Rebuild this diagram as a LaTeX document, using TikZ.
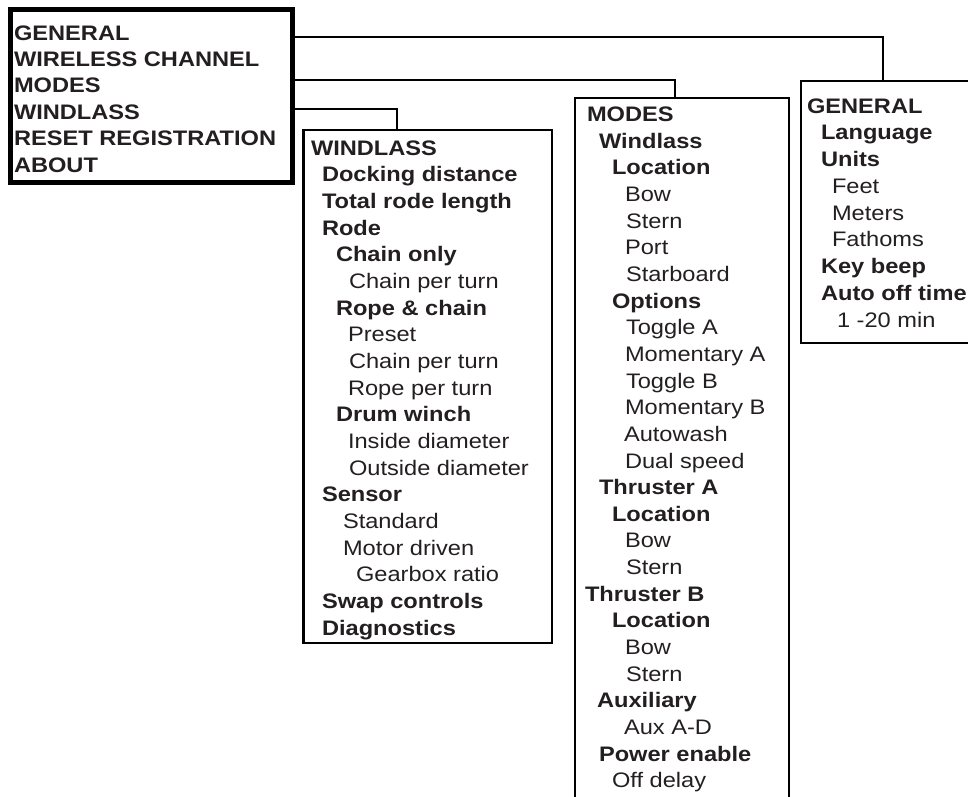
\documentclass[tikz,border=0pt]{standalone}
\usepackage{fontspec}
\setmainfont{Liberation Sans}[FakeStretch=1.125]
\definecolor{ink}{HTML}{231F20}
\begin{document}
\begin{tikzpicture}[x=1pt,y=-1pt,
  rt/.style={inner sep=0pt, outer sep=0pt, anchor=base west, text=ink, font=\fontsize{21pt}{24pt}\selectfont},
  bt/.style={rt, font=\fontsize{21pt}{24pt}\selectfont\bfseries},
  frame/.style={draw=black, line width=2.3pt, inner sep=0pt, outer sep=0pt, anchor=north west},
  mainframe/.style={frame, line width=5pt},
  conn/.style={draw=black, line width=2.3pt}]
\useasboundingbox (0,0) rectangle (968,796);

% boxes
\node[mainframe, minimum width=281.7pt, minimum height=173.3pt] (main) at (10.8,9.2) {};
\node[frame, minimum width=248.5pt, minimum height=513.3pt] (winbox) at (303.5,129.7) {};
\node[frame, minimum width=213.4pt, minimum height=730pt] (modbox) at (575.3,98) {};
\node[frame, minimum width=220pt, minimum height=261.7pt] (genbox) at (800.7,81.3) {};

% connector levels
\coordinate (gy) at (0,37);
\coordinate (my) at (0,80.3);
\coordinate (wy) at (0,109);
\coordinate (gx) at (883,0);
\coordinate (mx) at (675,0);
\coordinate (wx) at (396.7,0);
\draw[conn] (main.east |- gy) -| (genbox.north -| gx);
\draw[conn] (main.east |- my) -| (modbox.north -| mx);
\draw[conn] (main.east |- wy) -| (winbox.north -| wx);

% main menu
\foreach \t [count=\i from 0] in {GENERAL,WIRELESS CHANNEL,MODES,WINDLASS,RESET REGISTRATION,ABOUT}
  \node[bt] (m\i) at (14,{40+26.4*\i}) {\t};

% windlass
\foreach \s/\x/\t [count=\i from 0] in {
  bt/311/WINDLASS, bt/322/Docking distance, bt/322/Total rode length, bt/322/Rode,
  bt/336/Chain only, rt/349/Chain per turn, bt/336/Rope \& chain, rt/348/Preset,
  rt/349/Chain per turn, rt/348/Rope per turn, bt/336/Drum winch, rt/348/Inside diameter,
  rt/349/Outside diameter, bt/322/Sensor, rt/343/Standard, rt/343/Motor driven,
  rt/356/Gearbox ratio, bt/322/Swap controls, bt/322/Diagnostics}
  \node[\s] (w\i) at (\x,{155+26.67*\i}) {\t};

% modes
\foreach \s/\x/\t [count=\i from 0] in {
  bt/587/MODES, bt/599/Windlass, bt/612/Location, rt/625/Bow, rt/626/Stern, rt/625/Port,
  rt/626/Starboard, bt/612/Options, rt/626/Toggle A, rt/625/Momentary A, rt/626/Toggle B,
  rt/625/Momentary B, rt/624/Autowash, rt/625/Dual speed, bt/599/Thruster A, bt/612/Location,
  rt/625/Bow, rt/626/Stern, bt/585/Thruster B, bt/612/Location, rt/625/Bow, rt/626/Stern,
  bt/597/Auxiliary, rt/624/Aux A-D, bt/599/Power enable, rt/612/Off delay}
  \node[\s] (d\i) at (\x,{121.7+26.64*\i}) {\t};

% general
\foreach \s/\x/\t [count=\i from 0] in {
  bt/807/GENERAL, bt/821/Language, bt/821/Units, rt/832/Feet, rt/832/Meters, rt/832/Fathoms,
  bt/821/Key beep, bt/821/Auto off time, rt/837/1 -20 min}
  \node[\s] (g\i) at (\x,{113+26.75*\i}) {\t};
\end{tikzpicture}
\end{document}
